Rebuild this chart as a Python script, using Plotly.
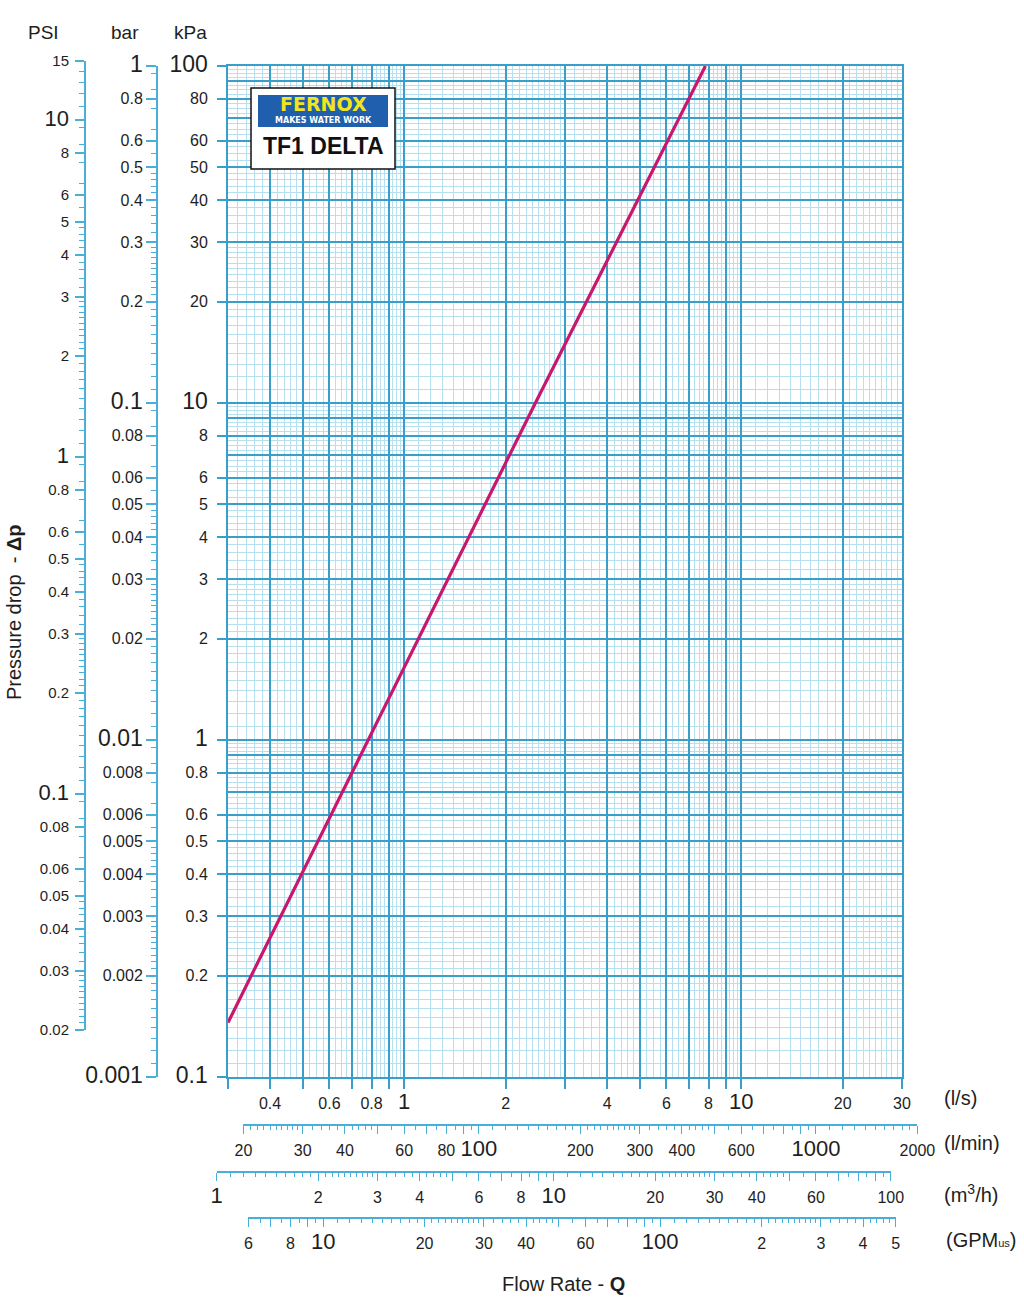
import numpy as np
import plotly.graph_objects as go

W, H = 1024, 1299

# ---------------- data ----------------
FLOW_LPS = [0.3, 0.78, 2.45, 7.83]      # flow rate, l/s
DP_KPA = [0.145, 1.0, 10.0, 100.0]       # pressure drop, kPa

X_LIMITS_LPS = [0.3, 30]
Y_LIMITS_KPA = [0.1, 100]

# unit conversions
KPA_PER_PSI = 6.895
KPA_PER_BAR = 100.0
LPM_PER_LPS = 60.0
M3H_PER_LPS = 3.6
GPM_PER_LPS = 17.4        # as the GPM scale is aligned in the picture

PSI_SPAN = [0.02, 15]
BAR_SPAN = [0.001, 1]
LPM_SPAN = [20, 2000]
M3H_SPAN = [1, 100]
GPM_SPAN = [6, 500]

# tick labels
LPS_TICKS = [0.4, 0.6, 0.8, 1, 2, 4, 6, 8, 10, 20, 30]
LPS_TEXT = ["0.4", "0.6", "0.8", "1", "2", "4", "6", "8", "10", "20", "30"]
LPS_BIG = [1, 10]

KPA_TICKS = [0.1, 0.2, 0.3, 0.4, 0.5, 0.6, 0.8, 1, 2, 3, 4, 5, 6, 8, 10, 20, 30, 40, 50, 60, 80, 100]
KPA_TEXT = ["0.1", "0.2", "0.3", "0.4", "0.5", "0.6", "0.8", "1", "2", "3", "4", "5", "6", "8",
            "10", "20", "30", "40", "50", "60", "80", "100"]
KPA_BIG = [0.1, 1, 10, 100]

BAR_TICKS = [0.001, 0.002, 0.003, 0.004, 0.005, 0.006, 0.008, 0.01, 0.02, 0.03, 0.04, 0.05, 0.06, 0.08,
             0.1, 0.2, 0.3, 0.4, 0.5, 0.6, 0.8, 1]
BAR_TEXT = ["0.001", "0.002", "0.003", "0.004", "0.005", "0.006", "0.008", "0.01", "0.02", "0.03", "0.04",
            "0.05", "0.06", "0.08", "0.1", "0.2", "0.3", "0.4", "0.5", "0.6", "0.8", "1"]
BAR_BIG = [0.001, 0.01, 0.1, 1]

PSI_TICKS = [0.02, 0.03, 0.04, 0.05, 0.06, 0.08, 0.1, 0.2, 0.3, 0.4, 0.5, 0.6, 0.8, 1, 2, 3, 4, 5, 6, 8, 10, 15]
PSI_TEXT = ["0.02", "0.03", "0.04", "0.05", "0.06", "0.08", "0.1", "0.2", "0.3", "0.4", "0.5", "0.6", "0.8",
            "1", "2", "3", "4", "5", "6", "8", "10", "15"]
PSI_BIG = [0.1, 1, 10]

LPM_TICKS = [20, 30, 40, 60, 80, 100, 200, 300, 400, 600, 1000, 2000]
LPM_TEXT = ["20", "30", "40", "60", "80", "100", "200", "300", "400", "600", "1000", "2000"]
LPM_BIG = [100, 1000]

M3H_TICKS = [1, 2, 3, 4, 6, 8, 10, 20, 30, 40, 60, 100]
M3H_TEXT = ["1", "2", "3", "4", "6", "8", "10", "20", "30", "40", "60", "100"]
M3H_BIG = [1, 10]

GPM_TICKS = [6, 8, 10, 20, 30, 40, 60, 100, 200, 300, 400, 500]
GPM_TEXT = ["6", "8", "10", "20", "30", "40", "60", "100", "2", "3", "4", "5"]
GPM_BIG = [10, 100]

# ---------------- styling ----------------
GRID_MAJOR = "#3a9ecb"
GRID_MINOR = "#b6e0f0"
SCALE_COL = "#4aafd8"
CURVE_COL = "#c8176e"
TXT = "#1e1e1e"
NARROW = "Liberation Sans Narrow, Arial Narrow, Liberation Sans, Arial, sans-serif"
REG = "Liberation Sans, Arial, sans-serif"

GRID_STEPS = [(1, 3, 0.1), (3, 5, 0.2), (5, 10, 0.25)]
SCALE_STEPS = [(1, 3, 0.1), (3, 5, 0.2), (5, 10, 0.5)]

# pixel geometry of the main grid
PX_LEFT, PX_RIGHT, PX_TOP, PX_BOTTOM = 228, 902, 66, 1077


def px(xp):
    return xp / W


def py(yp):
    return 1 - yp / H


def lps_to_px(v):
    lo, hi = np.log10(X_LIMITS_LPS)
    return PX_LEFT + (np.log10(v) - lo) / (hi - lo) * (PX_RIGHT - PX_LEFT)


def kpa_to_px(v):
    lo, hi = np.log10(Y_LIMITS_KPA)
    return PX_BOTTOM - (np.log10(v) - lo) / (hi - lo) * (PX_BOTTOM - PX_TOP)


def log_majors(lo, hi):
    out = []
    for e in range(int(np.floor(np.log10(lo))) - 1, int(np.ceil(np.log10(hi))) + 1):
        for m in range(1, 10):
            v = float(f"{m * 10.0 ** e:.10g}")
            if lo * (1 - 1e-9) <= v <= hi * (1 + 1e-9):
                out.append(v)
    return out


def log_minors(lo, hi, steps):
    out = []
    for e in range(int(np.floor(np.log10(lo))) - 1, int(np.ceil(np.log10(hi))) + 1):
        for a, b, s in steps:
            n = int(round((b - a) / s))
            for k in range(1, n):
                m = a + k * s
                if abs(m - round(m)) < 1e-9:
                    continue
                v = float(f"{m * 10.0 ** e:.10g}")
                if lo * (1 - 1e-9) <= v <= hi * (1 + 1e-9):
                    out.append(v)
    return out


def labels(vals, ticks, texts, big, big_size):
    lab = dict(zip(ticks, texts))
    out = []
    for v in vals:
        t = lab.get(v, "")
        if t and v in big:
            t = f"<span style='font-size:{big_size}px;font-family:Liberation Sans'>{t}</span>"
        out.append(t)
    return out


fig = go.Figure()

# curve
fig.add_trace(go.Scatter(x=FLOW_LPS, y=DP_KPA, mode="lines",
                         line=dict(color=CURVE_COL, width=3.2), xaxis="x", yaxis="y",
                         hoverinfo="skip", showlegend=False))

# dummy traces so that every auxiliary axis is drawn
for xa, ya in [("x", "y4"), ("x2", "y9"), ("x3", "y9"), ("x4", "y9"), ("x9", "y2"), ("x9", "y3")]:
    fig.add_trace(go.Scatter(x=[None], y=[None], mode="lines", xaxis=xa, yaxis=ya,
                             hoverinfo="skip", showlegend=False))

xdom = [px(PX_LEFT), px(PX_RIGHT)]
ydom = [py(PX_BOTTOM), py(PX_TOP)]

x_maj = log_majors(*X_LIMITS_LPS)
y_maj = log_majors(*Y_LIMITS_KPA)

layout = dict(
    width=W, height=H, autosize=False,
    margin=dict(l=0, r=0, t=0, b=0, pad=0),
    paper_bgcolor="white", plot_bgcolor="rgba(0,0,0,0)",
    showlegend=False, hovermode=False,
    font=dict(family=NARROW, color=TXT, size=15),
)

# main x (l/s)
layout["xaxis"] = dict(
    type="log", domain=xdom, range=list(np.log10(X_LIMITS_LPS)), anchor="y", automargin=False,
    tickmode="array", tickvals=x_maj, ticktext=labels(x_maj, LPS_TICKS, LPS_TEXT, LPS_BIG, 22),
    ticks="outside", ticklen=10, tickwidth=1.5, tickcolor=GRID_MAJOR, tickangle=0,
    tickfont=dict(family=NARROW, size=16, color=TXT), ticklabelstandoff=1,
    showgrid=True, gridcolor=GRID_MAJOR, gridwidth=1.5,
    minor=dict(tickmode="array", tickvals=log_minors(*X_LIMITS_LPS, GRID_STEPS), ticks="",
               showgrid=True, gridcolor=GRID_MINOR, gridwidth=1),
    showline=True, mirror=True, linecolor=GRID_MAJOR, linewidth=1.5, zeroline=False,
)
# main y (kPa) - grid only
layout["yaxis"] = dict(
    type="log", domain=ydom, range=list(np.log10(Y_LIMITS_KPA)), anchor="x", automargin=False,
    tickmode="array", tickvals=y_maj, showticklabels=False, ticks="",
    showgrid=True, gridcolor=GRID_MAJOR, gridwidth=1.5,
    minor=dict(tickmode="array", tickvals=log_minors(*Y_LIMITS_KPA, GRID_STEPS), ticks="",
               showgrid=True, gridcolor=GRID_MINOR, gridwidth=1),
    showline=True, mirror=True, linecolor=GRID_MAJOR, linewidth=1.5, zeroline=False,
)
# kPa labels
layout["yaxis4"] = dict(
    type="log", range=list(np.log10(Y_LIMITS_KPA)), overlaying="y", anchor="x", side="left",
    automargin=False,
    tickmode="array", tickvals=KPA_TICKS, ticktext=labels(KPA_TICKS, KPA_TICKS, KPA_TEXT, KPA_BIG, 23),
    ticks="outside", ticklen=10, tickwidth=1.5, tickcolor=GRID_MAJOR,
    tickfont=dict(family=NARROW, size=16, color=TXT), ticklabelstandoff=6,
    showgrid=False, showline=False, zeroline=False,
)
# bar scale
layout["yaxis2"] = dict(
    type="log", domain=[py(kpa_to_px(BAR_SPAN[0] * KPA_PER_BAR)), py(kpa_to_px(BAR_SPAN[1] * KPA_PER_BAR))],
    range=list(np.log10(BAR_SPAN)), anchor="free", position=px(157), side="left", automargin=False,
    tickmode="array", tickvals=BAR_TICKS, ticktext=labels(BAR_TICKS, BAR_TICKS, BAR_TEXT, BAR_BIG, 23),
    ticks="outside", ticklen=10, tickwidth=1.5, tickcolor=SCALE_COL,
    tickfont=dict(family=NARROW, size=16, color=TXT), ticklabelstandoff=0,
    minor=dict(tickmode="array", tickvals=log_minors(*BAR_SPAN, SCALE_STEPS), ticks="outside",
               ticklen=5, tickwidth=1.2, tickcolor=SCALE_COL, showgrid=False),
    showgrid=False, showline=True, linecolor=SCALE_COL, linewidth=2, zeroline=False,
)
# PSI scale
layout["yaxis3"] = dict(
    type="log", domain=[py(kpa_to_px(PSI_SPAN[0] * KPA_PER_PSI)), py(kpa_to_px(PSI_SPAN[1] * KPA_PER_PSI))],
    range=list(np.log10(PSI_SPAN)), anchor="free", position=px(85), side="left", automargin=False,
    tickmode="array", tickvals=PSI_TICKS, ticktext=labels(PSI_TICKS, PSI_TICKS, PSI_TEXT, PSI_BIG, 22),
    ticks="outside", ticklen=9, tickwidth=1.5, tickcolor=SCALE_COL,
    tickfont=dict(family=NARROW, size=15, color=TXT), ticklabelstandoff=3,
    minor=dict(tickmode="array", tickvals=log_minors(*PSI_SPAN, SCALE_STEPS), ticks="outside",
               ticklen=5, tickwidth=1.2, tickcolor=SCALE_COL, showgrid=False),
    showgrid=False, showline=True, linecolor=SCALE_COL, linewidth=2, zeroline=False,
)


def bottom_scale(per_lps, span, ticks, texts, big, line_px):
    maj = log_majors(*span)
    return dict(
        type="log",
        domain=[px(lps_to_px(span[0] / per_lps)), px(lps_to_px(span[1] / per_lps))],
        range=list(np.log10(span)), anchor="free", position=py(line_px), side="bottom",
        automargin=False,
        tickmode="array", tickvals=maj, ticktext=labels(maj, ticks, texts, big, 22),
        ticks="outside", ticklen=8, tickwidth=1.3, tickcolor=SCALE_COL, tickangle=0,
        tickfont=dict(family=NARROW, size=16, color=TXT), ticklabelstandoff=3,
        minor=dict(tickmode="array", tickvals=log_minors(*span, SCALE_STEPS), ticks="outside",
                   ticklen=4, tickwidth=1.1, tickcolor=SCALE_COL, showgrid=False),
        showgrid=False, showline=True, linecolor=SCALE_COL, linewidth=1.8, zeroline=False,
    )


layout["xaxis2"] = bottom_scale(LPM_PER_LPS, LPM_SPAN, LPM_TICKS, LPM_TEXT, LPM_BIG, 1125)
layout["xaxis3"] = bottom_scale(M3H_PER_LPS, M3H_SPAN, M3H_TICKS, M3H_TEXT, M3H_BIG, 1172)
layout["xaxis4"] = bottom_scale(GPM_PER_LPS, GPM_SPAN, GPM_TICKS, GPM_TEXT, GPM_BIG, 1218)

layout["xaxis9"] = dict(visible=False, domain=[0, 1], range=[0, 1], anchor="y2", automargin=False)
layout["yaxis9"] = dict(visible=False, domain=[0, 1], range=[0, 1], anchor="x2", automargin=False)

fig.update_layout(**layout)

# ---------------- annotations ----------------
def note(x, y, text, size=19, family=REG, **kw):
    fig.add_annotation(x=px(x), y=py(y), xref="paper", yref="paper", text=text, showarrow=False,
                       xanchor=kw.pop("xanchor", "center"), yanchor="middle",
                       font=dict(family=family, size=size, color=kw.pop("color", TXT)), **kw)


note(43, 32, "PSI")
note(125, 32, "bar")
note(190, 32, "kPa")
note(942, 1098, "(l/s)", size=20, xanchor="left")
note(942, 1143, "(l/min)", size=20, xanchor="left")
note(942, 1193, "(m<sup>3</sup>/h)", size=20, xanchor="left")
note(944, 1240, "(GPM<span style='font-size:11px'>us</span>)", size=20, xanchor="left")
note(563, 1284, "Flow Rate - <b>Q</b>", size=20)
note(14, 612, "Pressure drop  - <b>Δp</b>", size=20, textangle=-90)

# logo box
fig.add_shape(type="rect", xref="paper", yref="paper", x0=px(251), x1=px(395), y0=py(169), y1=py(88),
              fillcolor="white", line=dict(color="#111", width=1.5), layer="above")
fig.add_shape(type="rect", xref="paper", yref="paper", x0=px(258), x1=px(388), y0=py(127), y1=py(95),
              fillcolor="#1f5fae", line=dict(width=0), layer="above")
note(323, 104, "<b>FERNOX</b>", size=19, family="DejaVu Sans", color="#f2e51c")
note(323, 120.5, "<b>MAKES WATER WORK</b>", size=8, family="DejaVu Sans", color="white")
note(323, 146, "<b>TF1 DELTA</b>", size=23, family="Liberation Sans Narrow, Liberation Sans", color="#111")

fig.write_html("out.html")
